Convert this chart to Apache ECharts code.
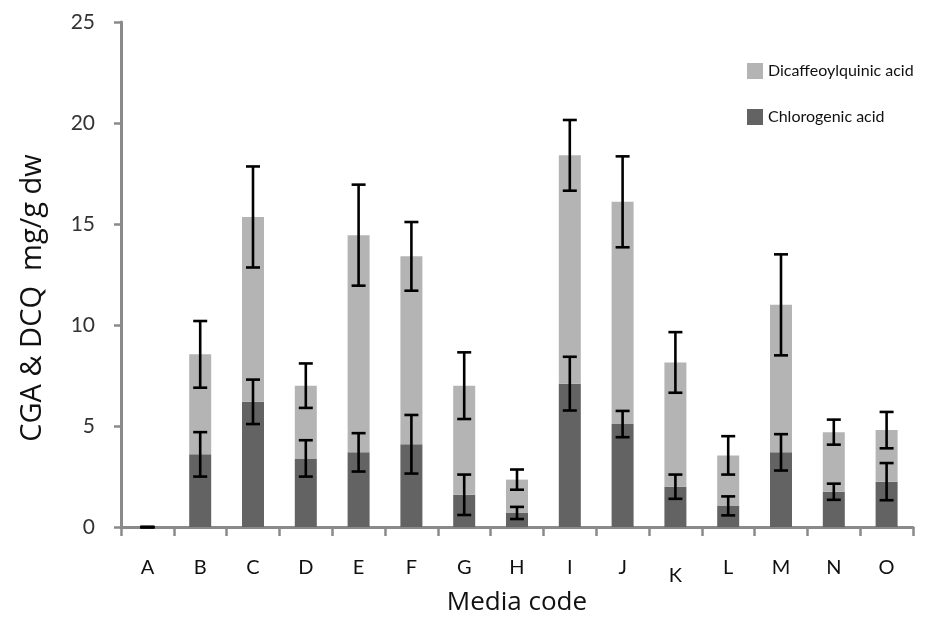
<!DOCTYPE html>
<html>
<head>
<meta charset="utf-8">
<script src="https://cdn.jsdelivr.net/npm/echarts@6/dist/echarts.min.js"></script>
<style>
  html, body { margin: 0; padding: 0; background: #fff; }
  #chart { width: 926px; height: 621px; }
</style>
</head>
<body>
<div id="chart"></div>
<script>
// media codes
var categories = ['A', 'B', 'C', 'D', 'E', 'F', 'G', 'H', 'I', 'J', 'K', 'L', 'M', 'N', 'O'];
// chlorogenic acid (bottom part of the stack)
var chlorogenic = [0, 3.6, 6.2, 3.4, 3.7, 4.1, 1.6, 0.7, 7.1, 5.1, 2.0, 1.05, 3.7, 1.75, 2.25];
var chlorogenicErr = [0, 1.1, 1.1, 0.9, 0.95, 1.45, 1.0, 0.3, 1.33, 0.65, 0.6, 0.47, 0.9, 0.4, 0.92];
// dicaffeoylquinic acid (upper part of the stack)
var dicaffeoyl = [0, 4.95, 9.15, 3.6, 10.75, 9.3, 5.4, 1.65, 11.3, 11.0, 6.15, 2.5, 7.3, 2.95, 2.55];
var dicaffeoylErr = [0, 1.65, 2.5, 1.1, 2.5, 1.7, 1.65, 0.5, 1.75, 2.25, 1.5, 0.95, 2.5, 0.62, 0.9];
var yTicks = [0, 5, 10, 15, 20, 25];

var fontFam = 'Lato, "Open Sans", sans-serif';
var nameFont = '"Open Sans", "Noto Sans", sans-serif';

// error bar data: [categoryIndex, low, high]
var errCga = chlorogenic.map(function (v, i) {
    return [i, v - chlorogenicErr[i], v + chlorogenicErr[i]];
});
var errDcq = dicaffeoyl.map(function (v, i) {
    var top = v + chlorogenic[i];
    return [i, top - dicaffeoylErr[i], top + dicaffeoylErr[i]];
});

function renderError(params, api) {
    var lo = api.coord([api.value(0), api.value(1)]);
    var hi = api.coord([api.value(0), api.value(2)]);
    var w = 7;
    var st = { stroke: '#000', lineWidth: 2.6 };
    return {
        type: 'group',
        children: [
            { type: 'line', shape: { x1: hi[0], y1: hi[1], x2: lo[0], y2: lo[1] }, style: st },
            { type: 'line', shape: { x1: hi[0] - w, y1: hi[1], x2: hi[0] + w, y2: hi[1] }, style: st },
            { type: 'line', shape: { x1: lo[0] - w, y1: lo[1], x2: lo[0] + w, y2: lo[1] }, style: st }
        ]
    };
}

var myChart = echarts.init(document.getElementById('chart'));
var option = {
    backgroundColor: '#fff',
    animation: false,
    textStyle: { fontFamily: fontFam },
    grid: {
        left: 121,
        right: 13,
        top: 22,
        bottom: 90
    },
    // y axis title, a bit lower than the plot centre as in the original
    graphic: [{
        type: 'text',
        x: 33,
        y: 298,
        rotation: Math.PI / 2,
        style: {
            text: 'CGA & DCQ  mg/g dw',
            fontSize: 29,
            fontFamily: nameFont,
            fill: '#111',
            align: 'center',
            verticalAlign: 'middle'
        }
    }],
    legend: {
        orient: 'vertical',
        left: 742,
        top: 58,
        itemWidth: 16,
        itemHeight: 16,
        itemGap: 30,
        icon: 'rect',
        data: ['Dicaffeoylquinic acid', 'Chlorogenic acid'],
        textStyle: { fontSize: 16, color: '#111', fontFamily: fontFam }
    },
    xAxis: {
        type: 'category',
        data: categories,
        name: 'Media code',
        nameLocation: 'middle',
        nameGap: 58,
        nameTextStyle: { fontSize: 26, color: '#111', fontFamily: nameFont },
        axisLine: { lineStyle: { color: '#8a8a8a', width: 3 } },
        axisTick: { show: true, length: 9, lineStyle: { color: '#8a8a8a', width: 2.5 } },
        axisLabel: {
            interval: 0,
            fontSize: 20,
            color: '#111',
            margin: 30,
            formatter: function (v) {
                return v === 'K' ? '{k|K}' : v;
            },
            rich: { k: { fontSize: 20, color: '#111', padding: [8, 0, 0, 0] } }
        }
    },
    yAxis: {
        type: 'value',
        min: 0,
        max: 25,
        interval: 5,
        axisLine: { show: true, lineStyle: { color: '#8a8a8a', width: 3 } },
        axisTick: { show: true, length: 7, lineStyle: { color: '#8a8a8a', width: 2.5 } },
        axisLabel: {
            fontSize: 21,
            color: '#333',
            margin: 26,
            formatter: function (v) { return yTicks.indexOf(v) >= 0 ? String(v) : ''; }
        },
        splitLine: { show: false }
    },
    series: [
        {
            name: 'Chlorogenic acid',
            type: 'bar',
            stack: 'total',
            barWidth: 22,
            itemStyle: { color: '#636363' },
            data: chlorogenic
        },
        {
            name: 'Dicaffeoylquinic acid',
            type: 'bar',
            stack: 'total',
            barWidth: 22,
            itemStyle: { color: '#b4b4b4' },
            data: dicaffeoyl
        },
        {
            name: 'errCga',
            type: 'custom',
            renderItem: renderError,
            data: errCga,
            z: 10,
            encode: { x: 0, y: [1, 2] }
        },
        {
            name: 'errDcq',
            type: 'custom',
            renderItem: renderError,
            data: errDcq,
            z: 10,
            encode: { x: 0, y: [1, 2] }
        }
    ]
};
option && myChart.setOption(option);
</script>
</body>
</html>
